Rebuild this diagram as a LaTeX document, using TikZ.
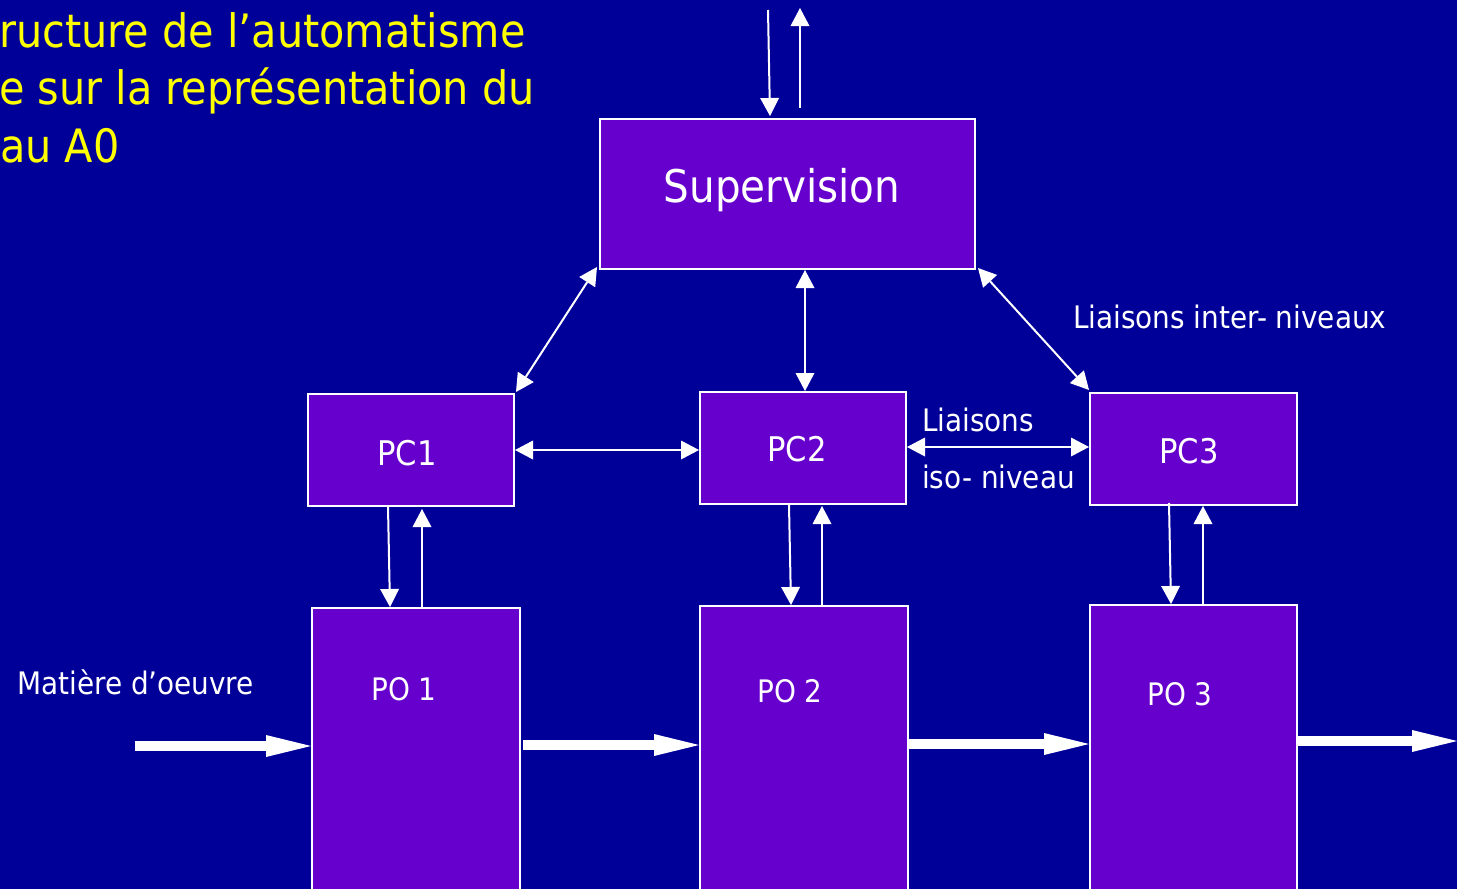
\documentclass[tikz,border=0pt]{standalone}
\usepackage{fontspec}
\setmainfont{DejaVu Sans Condensed}
\usetikzlibrary{arrows.meta,calc}
\definecolor{bgblue}{RGB}{0,0,153}
\definecolor{boxviolet}{RGB}{102,0,204}
\definecolor{titleyellow}{RGB}{255,255,0}
\newcommand{\fs}[1]{\fontsize{#1}{#1}\selectfont}
\tikzset{
  box/.style={draw=white, line width=2pt, fill=boxviolet, inner sep=0pt},
  head/.tip={Triangle[length=18pt,width=19pt,line width=0pt]},
  link/.style={draw=white, line width=2pt, -head},
  biglink/.style={draw=white, line width=2pt, head-head},
  flow/.style={draw=white, line width=10pt, -{Triangle[length=45pt,width=22pt,line width=0pt]}},
  lbl/.style={text=white, inner sep=0pt, anchor=base west},
  heading/.style={text=titleyellow, inner sep=0pt, anchor=base west, font=\fs{46}},
}
\begin{document}
\begin{tikzpicture}[x=1pt,y=-1pt]
  % page
  \fill[bgblue] (0,0) rectangle (1457,889);
  \useasboundingbox (0,0) rectangle (1457,889);

  % heading
  \node[heading] (t1) at (-1,47) {ructure de l’automatisme};
  \node[heading] (t2) at (-1,104) {e sur la représentation du};
  \node[heading] (t3) at (0,162) {au A0};

  % blocks
  \node[box, minimum width=375pt, minimum height=150pt] (sup) at (787.5,194) {};
  \node[text=white, font=\fs{45}] (suptxt) at (782,190) {Supervision};

  \node[box, minimum width=206pt, minimum height=112pt] (pc1) at (411,450) {};
  \node[box, minimum width=206pt, minimum height=112pt] (pc2) at (803,448) {};
  \node[box, minimum width=207pt, minimum height=112pt] (pc3) at (1193.5,449) {};
  \node[text=white, font=\fs{34}] (pc1txt) at (407,453) {PC1};
  \node[text=white, font=\fs{34}] (pc2txt) at (797,449) {PC2};
  \node[text=white, font=\fs{34}] (pc3txt) at (1189,451) {PC3};

  \node[box, minimum width=208pt, minimum height=300pt] (po1) at (416,758) {};
  \node[box, minimum width=208pt, minimum height=302pt] (po2) at (804,757) {};
  \node[box, minimum width=207pt, minimum height=303pt] (po3) at (1193.5,756.5) {};
  \node[text=white, font=\fs{31}] (po1txt) at (404,689) {PO 1};
  \node[text=white, font=\fs{31}] (po2txt) at (790,691) {PO 2};
  \node[text=white, font=\fs{31}] (po3txt) at (1180,694) {PO 3};

  % labels
  \node[lbl, font=\fs{31}] (mat) at (17,694) {Matière d’oeuvre};
  \node[lbl, font=\fs{31}] (inter) at (1073,328) {Liaisons inter- niveaux};
  \node[lbl, font=\fs{31}] (iso1) at (922,431) {Liaisons};
  \node[lbl, font=\fs{31}] (iso2) at (922,488) {iso- niveau};

  % links to the level above
  \coordinate (upin) at (768,10);
  \coordinate (upout) at (800,8);
  \draw[link] (upin) -- ([xshift=-17.5pt,yshift=2pt]sup.north);
  \draw[link] ([xshift=12.5pt,yshift=10pt]sup.north) -- (upout);

  % inter-level links
  \draw[biglink] ([shift={(-2pt,3pt)}]sup.south west) -- ([shift={(1pt,1pt)}]pc1.north east);
  \draw[biglink] ([xshift=17.5pt]sup.south) -- ([xshift=2pt]pc2.north);
  \draw[biglink] ([shift={(2pt,2pt)}]sup.south east) -- ([shift={(0pt,2pt)}]pc3.north west);

  % iso-level links
  \draw[biglink] (pc1.east) -- (pc1.east -| pc2.west);
  \draw[biglink] ([yshift=1pt]pc2.east) -- ([yshift=1pt]pc2.east -| pc3.west);

  % control / feedback between PC and PO
  \draw[link] ([xshift=-23pt]pc1.south) -- ([xshift=-26pt]po1.north);
  \draw[link] ([xshift=6pt]po1.north) -- ([xshift=11pt,yshift=-2pt]pc1.south);
  \draw[link] ([xshift=-14pt]pc2.south) -- ([xshift=-13pt]po2.north);
  \draw[link] ([xshift=18pt]po2.north) -- ([xshift=19pt,yshift=-1pt]pc2.south);
  \draw[link] ([xshift=-24.5pt,yshift=3pt]pc3.south) -- ([xshift=-22.5pt]po3.north);
  \draw[link] ([xshift=9.5pt]po3.north) -- ([xshift=9.5pt]pc3.south);

  % material flow
  \coordinate (fin) at (135,746);
  \coordinate (f12) at (523,745);
  \coordinate (f23) at (908,744);
  \coordinate (f3o) at (1297,741);
  \coordinate (fout) at (1457,741);
  \draw[flow] (fin) -- (fin -| po1.west);
  \draw[flow] (f12) -- (f12 -| po2.west);
  \draw[flow] (f23) -- (f23 -| po3.west);
  \draw[flow] (f3o) -- (fout);
\end{tikzpicture}
\end{document}
